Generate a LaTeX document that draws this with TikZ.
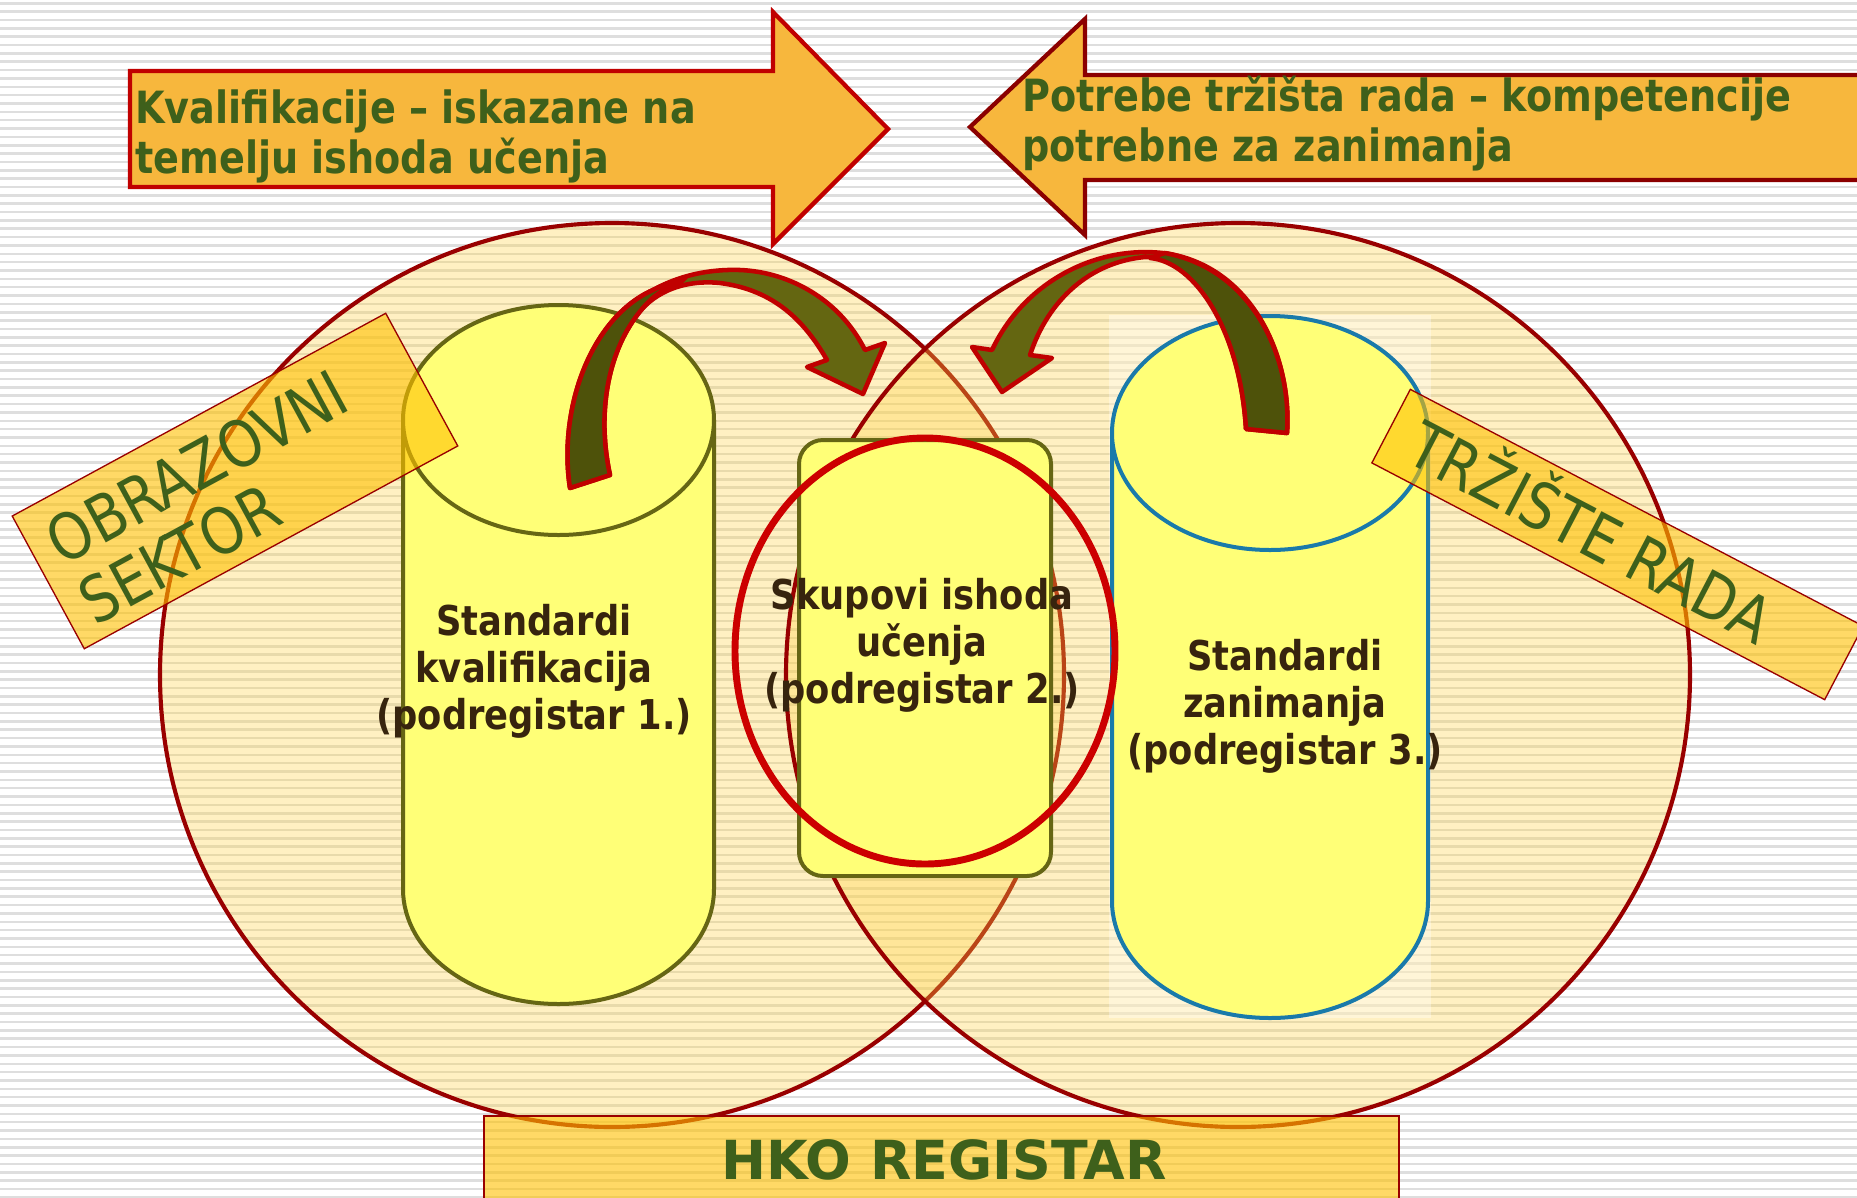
\documentclass[tikz,border=0pt]{standalone}
\usepackage{fontspec}
\newfontfamily\narrowsans[FakeStretch=0.86]{DejaVu Sans}
\newfontfamily\widesans{DejaVu Sans}
\definecolor{ringred}{RGB}{153,0,0}
\definecolor{arrowred}{RGB}{192,0,0}
\definecolor{deepred}{RGB}{139,0,0}
\definecolor{ovalred}{RGB}{204,0,0}
\definecolor{arroworange}{RGB}{247,183,61}
\definecolor{boxorange}{RGB}{255,192,0}
\definecolor{ringfill}{RGB}{255,210,70}
\definecolor{cylyellow}{RGB}{255,255,119}
\definecolor{cylolive}{RGB}{102,102,20}
\definecolor{cylblue}{RGB}{26,122,170}
\definecolor{bendlight}{RGB}{100,102,17}
\definecolor{benddark}{RGB}{78,82,10}
\definecolor{labelgreen}{RGB}{62,96,27}
\definecolor{textbrown}{RGB}{55,36,14}
\definecolor{stripegray}{RGB}{222,222,222}
\tikzset{
  stripe/.style={stripegray, line width=1.9pt},
  ring/.style={draw=ringred, line width=3.1pt, fill=ringfill, fill opacity=0.33},
  bigarrow/.style={fill=arroworange, line width=3.2pt, line join=miter},
  cylside/.style={line width=3pt, fill=cylyellow},
  bendarrow/.style={draw=arrowred, line width=3.4pt, line join=round},
  sectorbox/.style={draw=ringred, line width=1pt, fill=boxorange, fill opacity=0.6, inner sep=0pt},
  arrowtext/.style={inner sep=0pt, align=left, text=labelgreen, font=\narrowsans\bfseries\fontsize{33.3}{37.5}\selectfont},
  regtext/.style={inner sep=0pt, align=center, text=textbrown, font=\narrowsans\bfseries\fontsize{30.8}{35.25}\selectfont},
  sectortext/.style={inner sep=0pt, text=labelgreen, font=\narrowsans\fontsize{48}{51}\selectfont}
}
\begin{document}
\begin{tikzpicture}[x=0.75pt,y=0.75pt,yscale=-1,xscale=1]
\useasboundingbox (0,0) rectangle (1857,1197);
\clip (0,0) rectangle (1857,1197);
\fill[white] (0,0) rectangle (1857,1197);
%Straight Lines: background stripes
\foreach \k in {0,...,143}
  \draw[stripe] (0,{3.3+8.35*\k}) -- (1857,{3.3+8.35*\k});

%Shape: Circle [education]
\draw[ring] (612,675) circle [radius=452];
%Shape: Circle [labour market]
\draw[ring] (1238,675) circle [radius=452];
%Shape: Rectangle [pale back of right cylinder]
\fill[white, fill opacity=0.35] (1109,315) rectangle (1431,1018);

%Shape: Can [left]
\fill[cylyellow] (403,420) -- (403,889) arc[start angle=180, end angle=0, x radius=155.5, y radius=115] -- (714,420) -- cycle;
\draw[cylside, draw=cylolive] (403,420) -- (403,889) arc[start angle=180, end angle=0, x radius=155.5, y radius=115] -- (714,420);
\draw[cylside, draw=cylolive] (558.5,420) ellipse [x radius=155.5, y radius=115];
%Shape: Can [right]
\fill[cylyellow] (1112,433) -- (1112,901) arc[start angle=180, end angle=0, x radius=158, y radius=117] -- (1428,433) -- cycle;
\draw[cylside, draw=cylblue] (1112,433) -- (1112,901) arc[start angle=180, end angle=0, x radius=158, y radius=117] -- (1428,433);
\draw[cylside, draw=cylblue] (1270,433) ellipse [x radius=158, y radius=117];

%Shape: Rounded Rectangle [centre]
\draw[cylside, draw=cylolive, rounded corners=18pt] (799,440) rectangle (1051,876);
%Shape: Ellipse [centre]
\draw[ovalred, line width=5.2pt] (925,651) ellipse [x radius=190, y radius=213];

%Curve Arrow [left]
\draw[bendarrow, fill=bendlight] (570,488) .. controls (558,410) and (590,318) .. (653,290) .. controls (680,275) and (710,269) .. (740,270) .. controls (790,272) and (840,300) .. (865,350) -- (885,343) -- (863,394) -- (807,367) -- (827,360) .. controls (805,322) and (775,290) .. (720,283) .. controls (680,279) and (650,295) .. (635,318) .. controls (605,360) and (598,420) .. (610,475) -- cycle;
\draw[bendarrow, fill=benddark] (570,488) .. controls (558,410) and (590,318) .. (653,290) .. controls (663,285) and (673,281) .. (686,277) -- (680,283) .. controls (662,288) and (648,300) .. (635,318) .. controls (605,360) and (598,420) .. (610,475) -- cycle;
%Curve Arrow [right]
\draw[bendarrow, fill=bendlight] (1287,433) .. controls (1292,360) and (1255,270) .. (1170,254) .. controls (1100,243) and (1025,280) .. (992,350) -- (972,347) -- (1002,392) -- (1052,358) -- (1030,355) .. controls (1048,300) and (1090,262) .. (1145,257) .. controls (1195,255) and (1240,330) .. (1246,429) -- cycle;
\draw[bendarrow, fill=benddark] (1287,433) .. controls (1292,360) and (1255,270) .. (1165,253) -- (1150,258) .. controls (1195,262) and (1240,330) .. (1246,429) -- cycle;

%Right Arrow [top left]
\draw[bigarrow, draw=arrowred] (130,71) -- (773,71) -- (773,12) -- (888,129) -- (773,244) -- (773,187) -- (130,187) -- cycle;
%Left Arrow [top right]
\draw[bigarrow, draw=deepred] (1880,75) -- (1085,75) -- (1085,19) -- (970,127) -- (1085,235) -- (1085,180) -- (1880,180) -- cycle;

%Shape: Rectangle [rotated labels]
\node[sectorbox, minimum width=318.75pt, minimum height=113.25pt, rotate=28.5] (edubox) at (235,481) {};
\node[sectorbox, minimum width=383.25pt, minimum height=62.25pt, rotate=-27.6] (labourbox) at (1617.5,544.5) {};
%Shape: Rectangle [register]
\draw[sectorbox] (484,1116) rectangle (1399,1215);

% Text Node
\node[arrowtext, anchor=west] (qualtext) at (135,136.5) {Kvalifikacije – iskazane na\\temelju ishoda učenja};
% Text Node
\node[arrowtext, anchor=west] (needtext) at (1022,123.5) {Potrebe tržišta rada – kompetencije\\potrebne za zanimanja};
% Text Node
\node[regtext] (stdqual) at (534,671) {Standardi\\kvalifikacija\\(podregistar 1.)};
% Text Node
\node[regtext] (skupovi) at (922,645) {Skupovi ishoda\\učenja\\(podregistar 2.)};
% Text Node
\node[regtext] (stdjob) at (1285,706) {Standardi\\zanimanja\\(podregistar 3.)};
% Text Node
\node[sectortext, rotate=28.5, align=left] (edutext) at (213,497) {OBRAZOVNI\\SEKTOR};
% Text Node
\node[sectortext, rotate=-27.6, anchor=base] (labourtext) at (1580,553) {TRŽIŠTE RADA};
% Text Node
\node[inner sep=0pt, anchor=base, text=labelgreen, font=\widesans\bfseries\fontsize{40.35}{44}\selectfont] (hkotext) at (944,1179) {HKO REGISTAR};
\end{tikzpicture}
\end{document}
